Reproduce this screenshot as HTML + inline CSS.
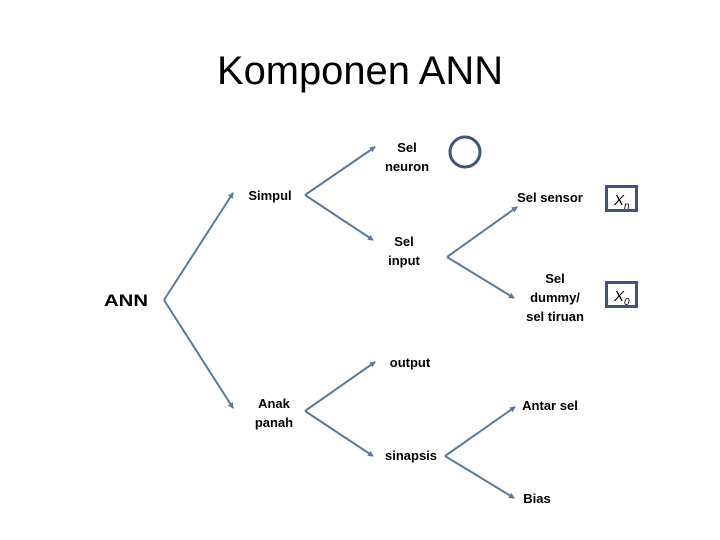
<!DOCTYPE html>
<html><head><meta charset="utf-8"><style>
html,body{margin:0;padding:0;background:#fff;}
svg{display:block;}
text{font-family:"Liberation Sans",sans-serif;fill:#000;}
.l{font-size:13px;font-weight:bold;}
</style></head><body>
<svg width="720" height="540" viewBox="0 0 720 540" xmlns="http://www.w3.org/2000/svg">
<defs><marker id="a" markerWidth="6" markerHeight="6" refX="5" refY="3" orient="auto" markerUnits="userSpaceOnUse"><path d="M0,0 L6,3 L0,6 z" fill="#5b7a9e"/></marker></defs>
<text x="217" y="84" font-size="40" textLength="286" lengthAdjust="spacingAndGlyphs">Komponen ANN</text>
<g stroke="#5b7a9e" stroke-width="2" fill="none" marker-end="url(#a)">
<path d="M164,300 L233,193"/><path d="M164,300 L233,408"/>
<path d="M305,195 L375,147"/><path d="M305,195 L373,240"/>
<path d="M447,257 L517,207"/><path d="M447,257 L514,298"/>
<path d="M305,411 L375,362"/><path d="M305,411 L373,456"/>
<path d="M445,456 L515,407"/><path d="M445,456 L514,498"/>
</g>
<circle cx="465" cy="152" r="15" fill="none" stroke="#3f5578" stroke-width="3"/>
<rect x="606.5" y="186.5" width="30" height="24" fill="none" stroke="#3f5578" stroke-width="3"/>
<rect x="606.5" y="282.5" width="30" height="24" fill="none" stroke="#3f5578" stroke-width="3"/>
<text x="614" y="205" font-size="15" font-style="italic">X</text><text x="624" y="209" font-size="10" font-style="italic">n</text>
<text x="614" y="301" font-size="15" font-style="italic">X</text><text x="624" y="305" font-size="10" font-style="italic">0</text>
<text x="104" y="306" font-size="17" font-weight="bold" textLength="44" lengthAdjust="spacingAndGlyphs">ANN</text>
<g class="l" text-anchor="middle">
<text x="270" y="200" class="l">Simpul</text>
<text x="407" y="152" class="l">Sel</text><text x="407" y="171" class="l">neuron</text>
<text x="404" y="246" class="l">Sel</text><text x="404" y="265" class="l">input</text>
<text x="550" y="202" class="l">Sel sensor</text>
<text x="555" y="283" class="l">Sel</text><text x="555" y="302" class="l">dummy/</text><text x="555" y="321" class="l">sel tiruan</text>
<text x="410" y="367" class="l">output</text>
<text x="274" y="408" class="l">Anak</text><text x="274" y="427" class="l">panah</text>
<text x="550" y="410" class="l">Antar sel</text>
<text x="411" y="460" class="l">sinapsis</text>
<text x="537" y="503" class="l">Bias</text>
</g>
</svg>
</body></html>
